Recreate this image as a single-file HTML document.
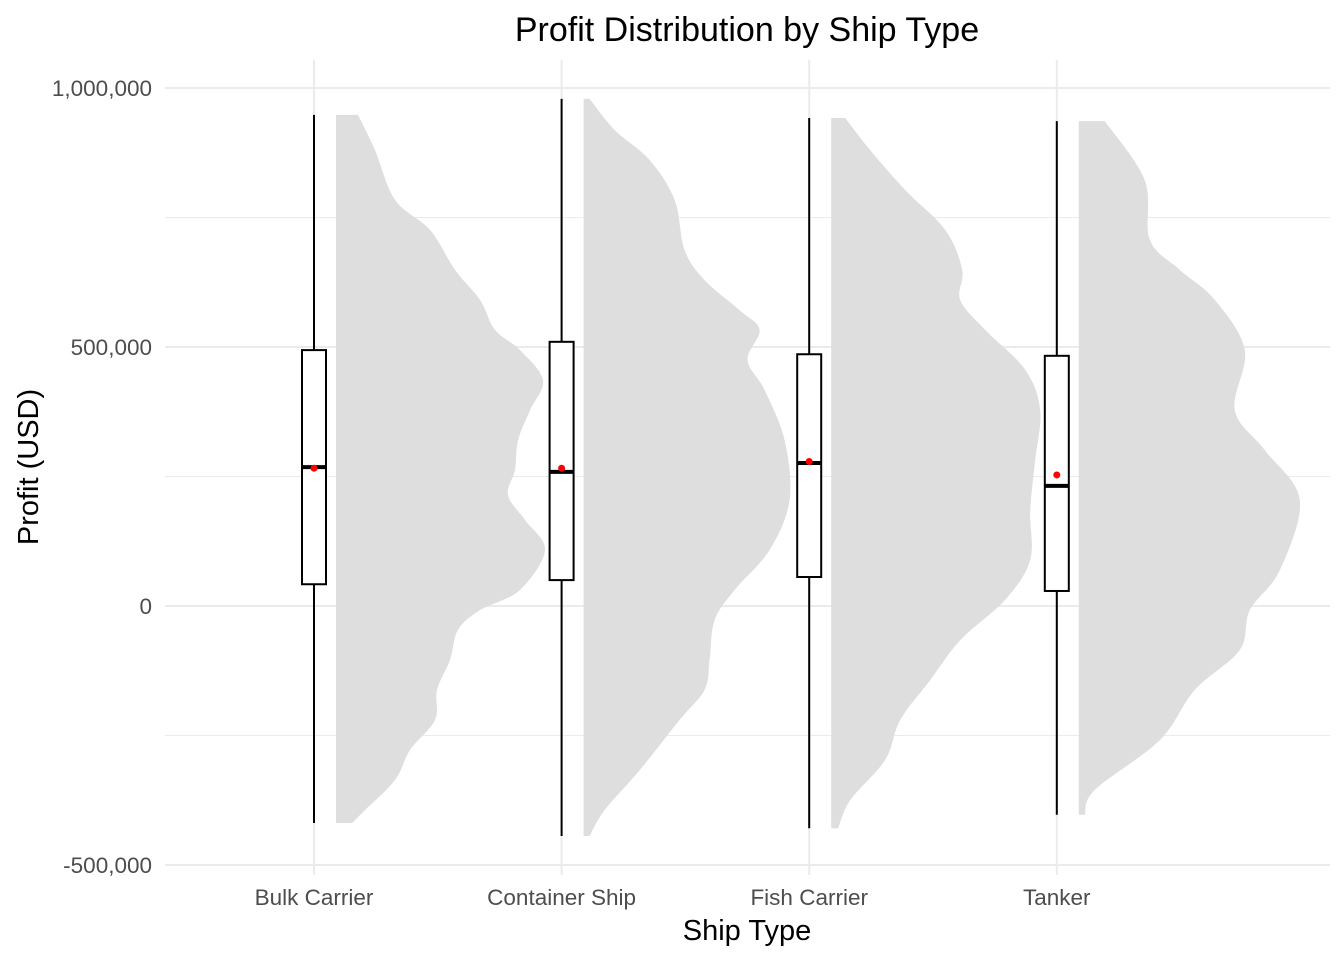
<!DOCTYPE html>
<html><head><meta charset="utf-8"><style>
html,body{margin:0;padding:0;background:#fff;}
svg{display:block;font-family:"Liberation Sans",Arial,sans-serif;}
</style></head><body>
<svg id="chart" width="1344" height="960" viewBox="0 0 1344 960">
<g id="grid"></g>
<g id="marks"></g>
<g id="axes"></g>
<text x="747" y="41" text-anchor="middle" font-size="34" fill="#000">Profit Distribution by Ship Type</text>
<text x="747" y="940" text-anchor="middle" font-size="29" fill="#000">Ship Type</text>
<text transform="translate(38,467) rotate(-90)" text-anchor="middle" font-size="29" fill="#000">Profit (USD)</text>
</svg>
<script>
const categories = ["Bulk Carrier","Container Ship","Fish Carrier","Tanker"];
const q1 = [42000, 50000, 56000, 29000];
const q3 = [494000, 510000, 486000, 483000];
const medians = [268000, 259000, 276000, 232000];
const means = [266000, 266000, 279000, 253000];
const mins = [-419000, -444000, -429000, -403000];
const maxs = [948000, 979000, 942000, 936000];
const yTicks = [-500000, 0, 500000, 1000000];
const yTickLabels = ["-500,000","0","500,000","1,000,000"];
const yMinor = [-250000, 250000, 750000];
// density curves (profit in thousands USD, relative density)
const densY0 = [948,880,784,726,649,591,533,494,436,378,320,263,214,166,108,31,-8,-46,-104,-162,-220,-278,-336,-394,-419];
const densW0 = [22,39,59,94,119,144,159,184,207,194,182,179,172,189,209,184,144,122,114,101,99,74,59,29,16];
const densY1 = [979,919,861,784,687,629,571,533,475,417,320,205,108,31,-27,-104,-162,-220,-317,-394,-444];
const densW1 = [6,31,66,91,101,121,156,176,164,181,201,206,186,151,131,126,121,96,56,21,6];
const densY2 = [942,880,803,726,649,591,533,456,378,282,185,89,12,-66,-143,-220,-297,-375,-429];
const densW2 = [14,39,74,114,131,129,154,194,209,204,199,199,174,129,99,69,54,19,7];
const densY3 = [936,822,707,649,591,494,378,301,205,69,-8,-85,-162,-259,-355,-403];
const densW3 = [26,66,71,101,136,166,156,186,221,201,171,161,116,81,16,6];
const densYs = [densY0, densY1, densY2, densY3];
const densWs = [densW0, densW1, densW2, densW3];

const NS = "http://www.w3.org/2000/svg";
const yScale = v => 606 - v * 259 / 500000;
const xScale = i => 314 + i * 247.6;
const wScale = d => d * 1.0;
function mk(tag, attrs, parent){const e=document.createElementNS(NS,tag);for(const k in attrs)e.setAttribute(k,attrs[k]);parent.appendChild(e);return e;}
const grid=document.getElementById('grid'), marks=document.getElementById('marks'), axes=document.getElementById('axes');
yMinor.forEach(v=>{const l=mk('line',{x1:165,x2:1330,y1:yScale(v),y2:yScale(v),stroke:'#ebebeb','stroke-width':1},grid);

});
yTicks.forEach((v,i)=>{const l=mk('line',{x1:165,x2:1330,y1:yScale(v),y2:yScale(v),stroke:'#ebebeb','stroke-width':2},grid);


const t=mk('text',{x:152,y:yScale(v)+8,'text-anchor':'end','font-size':22.5,fill:'#4d4d4d'},axes);t.textContent=yTickLabels[i];

});
categories.forEach((c,i)=>{const x=xScale(i);
const l=mk('line',{x1:x,x2:x,y1:60,y2:875,stroke:'#ebebeb','stroke-width':2},grid);


const t=mk('text',{x:x,y:905,'text-anchor':'middle','font-size':22.5,fill:'#4d4d4d'},axes);t.textContent=c;


const x0=x+22, ys=densYs[i], ws=densWs[i];
const pts=ys.map((v,j)=>[x0+wScale(ws[j]), yScale(v*1000)]);
let d=`M${x0},${pts[0][1]} L${pts[0][0]},${pts[0][1]}`;
for(let j=0;j<pts.length-1;j++){const p0=pts[Math.max(0,j-1)],p1=pts[j],p2=pts[j+1],p3=pts[Math.min(pts.length-1,j+2)];
const c1=[p1[0]+(p2[0]-p0[0])/6,p1[1]+(p2[1]-p0[1])/6],c2=[p2[0]-(p3[0]-p1[0])/6,p2[1]-(p3[1]-p1[1])/6];
d+=` C${c1[0]},${c1[1]} ${c2[0]},${c2[1]} ${p2[0]},${p2[1]}`;}
d+=` L${x0},${pts[pts.length-1][1]} Z`;
const vp=mk('path',{d:d,fill:'#dedede'},marks);


const wh=mk('line',{x1:x,x2:x,y1:yScale(maxs[i]),y2:yScale(mins[i]),stroke:'#000','stroke-width':2},marks);


const bx=mk('rect',{x:x-12,y:yScale(q3[i]),width:24,height:yScale(q1[i])-yScale(q3[i]),fill:'#fff',stroke:'#000','stroke-width':2},marks);


const md=mk('line',{x1:x-12,x2:x+12,y1:yScale(medians[i]),y2:yScale(medians[i]),stroke:'#000','stroke-width':4},marks);


const mn=mk('circle',{cx:x,cy:yScale(means[i]),r:3.5,fill:'#ff0000'},marks);


});
</script>
</body></html>
